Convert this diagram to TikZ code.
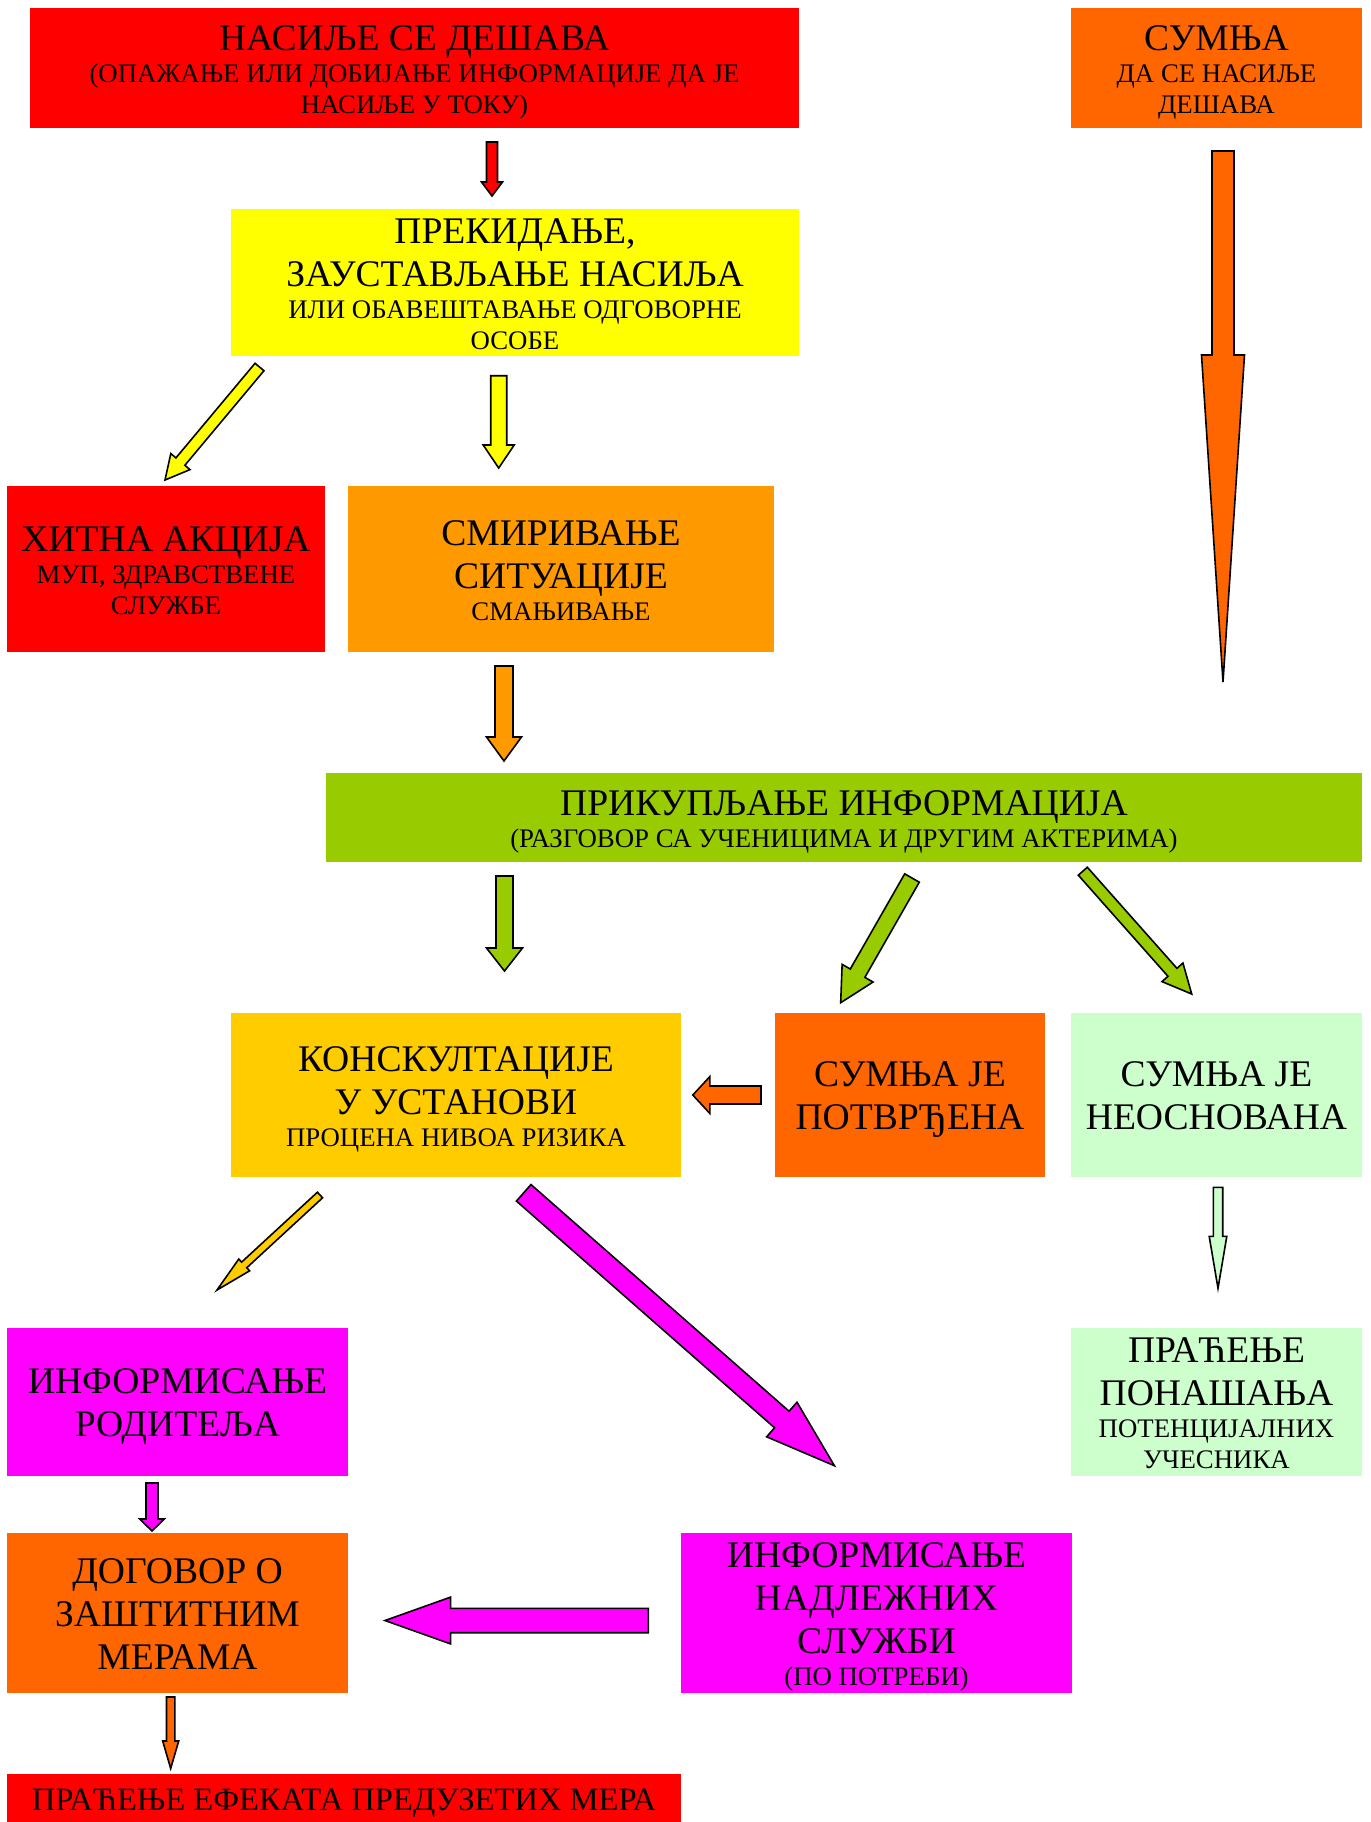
\documentclass[tikz,border=0pt]{standalone}
\usepackage{fontspec}
\setmainfont{Liberation Serif}
\usetikzlibrary{calc}

\definecolor{redbox}{HTML}{FF0000}
\definecolor{orangebox}{HTML}{FF6600}
\definecolor{yellowbox}{HTML}{FFFF00}
\definecolor{amberbox}{HTML}{FF9900}
\definecolor{greenbox}{HTML}{99CC00}
\definecolor{goldbox}{HTML}{FFCC00}
\definecolor{mintbox}{HTML}{CCFFCC}
\definecolor{pinkbox}{HTML}{FF00FF}

\newcommand{\bigline}[1]{{\fontsize{18.8pt}{21.5pt}\selectfont\rule[-6pt]{0pt}{21.5pt}#1}}
\newcommand{\smallline}[1]{{\fontsize{13.4pt}{15.5pt}\selectfont\rule[-5.5pt]{0pt}{15.5pt}#1}}
\newcommand{\linestack}[1]{%
  \setbox0\vbox{\baselineskip=0pt\lineskip=0pt\lineskiplimit=0pt
    \kern3.5pt\let\\\cr\halign{\hfil##\hfil\cr#1\crcr}}%
  \setbox2\hbox{\lower\dimexpr(\ht0-\dp0)/2\relax\box0}%
  \ht2=0pt \dp2=0pt \box2}

\begin{document}
\begin{tikzpicture}[x=0.5pt, y=-0.5pt,
    box/.style={inner sep=0pt},
    dims/.style 2 args={minimum width=#1, minimum height=#2},
    blk/.style n args={3}{draw=black, line width=0.8pt, line join=miter,
      to path={($(\tikztostart)!#1!90:(\tikztotarget)$)
        -- ($(\tikztotarget)!#3!(\tikztostart)!#1!-90:(\tikztostart)$)
        -- ($(\tikztotarget)!#3!(\tikztostart)!#2!-90:(\tikztostart)$)
        -- (\tikztotarget)
        -- ($(\tikztotarget)!#3!(\tikztostart)!#2!90:(\tikztostart)$)
        -- ($(\tikztotarget)!#3!(\tikztostart)!#1!90:(\tikztostart)$)
        -- ($(\tikztostart)!#1!-90:(\tikztotarget)$) -- cycle}}]
  \useasboundingbox (0,0) rectangle (1371,1822);

  \node[box, dims={384.5pt}{60pt}, fill=redbox] (nasilje) at (414.5,68)
    {\linestack{\bigline{НАСИЉЕ СЕ ДЕШАВА}\\\smallline{(ОПАЖАЊЕ ИЛИ ДОБИЈАЊЕ ИНФОРМАЦИЈЕ ДА ЈЕ}\\\smallline{НАСИЉЕ У ТОКУ)}}};
  \node[box, dims={145.5pt}{60pt}, fill=orangebox] (sumnja) at (1216.5,68)
    {\linestack{\bigline{СУМЊА}\\\smallline{ДА СЕ НАСИЉЕ}\\\smallline{ДЕШАВА}}};
  \node[box, dims={284pt}{73.5pt}, fill=yellowbox] (prekid) at (515,282.5)
    {\linestack{\bigline{ПРЕКИДАЊЕ,}\\\bigline{ЗАУСТАВЉАЊЕ НАСИЉА}\\\smallline{ИЛИ ОБАВЕШТАВАЊЕ ОДГОВОРНЕ}\\\smallline{ОСОБЕ}}};
  \node[box, dims={159pt}{83pt}, fill=redbox] (hitna) at (166,569)
    {\linestack{\bigline{ХИТНА АКЦИЈА}\\\smallline{МУП, ЗДРАВСТВЕНЕ}\\\smallline{СЛУЖБЕ}}};
  \node[box, dims={213pt}{83pt}, fill=amberbox] (smiriv) at (561,569)
    {\linestack{\bigline{СМИРИВАЊЕ}\\\bigline{СИТУАЦИЈЕ}\\\smallline{СМАЊИВАЊЕ}}};
  \node[box, dims={518pt}{44.5pt}, fill=greenbox] (prikup) at (844,817.5)
    {\linestack{\bigline{ПРИКУПЉАЊЕ ИНФОРМАЦИЈА}\\\smallline{(РАЗГОВОР СА УЧЕНИЦИМА И ДРУГИМ АКТЕРИМА)}}};
  \node[box, dims={225pt}{82pt}, fill=goldbox] (konsult) at (456,1095)
    {\linestack{\bigline{КОНСКУЛТАЦИЈЕ}\\\bigline{У УСТАНОВИ}\\\smallline{ПРОЦЕНА НИВОА РИЗИКА}}};
  \node[box, dims={135pt}{82pt}, fill=orangebox] (potvrd) at (910,1095)
    {\linestack{\bigline{СУМЊА ЈЕ}\\\bigline{ПОТВРЂЕНА}}};
  \node[box, dims={145.5pt}{82pt}, fill=mintbox] (neosn) at (1216.5,1095)
    {\linestack{\bigline{СУМЊА ЈЕ}\\\bigline{НЕОСНОВАНА}}};
  \node[box, dims={145.5pt}{74pt}, fill=mintbox] (ponasanje) at (1216.5,1402)
    {\linestack{\bigline{ПРАЋЕЊЕ}\\\bigline{ПОНАШАЊА}\\\smallline{ПОТЕНЦИЈАЛНИХ}\\\smallline{УЧЕСНИКА}}};
  \node[box, dims={170.5pt}{74pt}, fill=pinkbox] (roditelji) at (177.5,1402)
    {\linestack{\bigline{ИНФОРМИСАЊЕ}\\\bigline{РОДИТЕЉА}}};
  \node[box, dims={170.5pt}{80pt}, fill=orangebox] (dogovor) at (177.5,1613)
    {\linestack{\bigline{ДОГОВОР О}\\\bigline{ЗАШТИТНИМ}\\\bigline{МЕРАМА}}};
  \node[box, dims={195.5pt}{80pt}, fill=pinkbox] (sluzbe) at (876.5,1613)
    {\linestack{\bigline{ИНФОРМИСАЊЕ}\\\bigline{НАДЛЕЖНИХ}\\\bigline{СЛУЖБИ}\\\smallline{(ПО ПОТРЕБИ)}}};
  \node[box, dims={337pt}{24pt}, fill=redbox, font=\fontsize{16.3pt}{18pt}\selectfont] (efekti) at (344,1798)
    {\raisebox{-2.5pt}[\height][\depth]{ПРАЋЕЊЕ ЕФЕКАТА ПРЕДУЗЕТИХ МЕРА}};

  \coordinate (r1) at (492,142);     \coordinate (r2) at (492,196);
  \coordinate (y1) at (259.5,367);   \coordinate (y2) at (165,480);
  \coordinate (y3) at (498.7,375.7); \coordinate (y4) at (498.7,468);
  \coordinate (o1) at (504,666);     \coordinate (o2) at (504,761);
  \coordinate (g1) at (504.5,876);   \coordinate (g2) at (504.5,971);
  \coordinate (g3) at (912,878);     \coordinate (g4) at (840.7,1002.7);
  \coordinate (g5) at (1082.8,871.2);\coordinate (g6) at (1191.7,994);
  \coordinate (p1) at (761,1095);    \coordinate (p2) at (692.8,1095);
  \coordinate (m1) at (1218,1187.3); \coordinate (m2) at (1218,1288.3);
  \coordinate (k1) at (320,1195);    \coordinate (k2) at (217,1290);
  \coordinate (s1) at (523.7,1192.8);\coordinate (s2) at (834.4,1465.7);
  \coordinate (s3) at (152,1483);    \coordinate (s4) at (152,1531);
  \coordinate (s5) at (648.3,1620.5);\coordinate (s6) at (385,1620.5);
  \coordinate (d1) at (170.7,1697);  \coordinate (d2) at (170.7,1768.5);
  \coordinate (u1) at (1223,151);    \coordinate (u2) at (1223,682);

  \draw[blk={2.75pt}{5.25pt}{7pt}, fill=redbox] (r1) to (r2);
  \draw[blk={2.9pt}{6.25pt}{12pt}, fill=yellowbox] (y1) to (y2);
  \draw[blk={4pt}{7.75pt}{11.5pt}, fill=yellowbox] (y3) to (y4);
  \draw[blk={4.5pt}{8.75pt}{12pt}, fill=amberbox] (o1) to (o2);
  \draw[blk={4.25pt}{9pt}{11.5pt}, fill=greenbox] (g1) to (g2);
  \draw[blk={4.2pt}{8.9pt}{17pt}, fill=greenbox] (g3) to (g4);
  \draw[blk={3pt}{7pt}{14.5pt}, fill=greenbox] (g5) to (g6);
  \draw[blk={4.5pt}{9.2pt}{8.5pt}, fill=orangebox] (p1) to (p2);
  \draw[blk={2.35pt}{4.4pt}{26pt}, fill=mintbox] (m1) to (m2);
  \draw[blk={1.9pt}{4pt}{18.5pt}, fill=goldbox] (k1) to (k2);
  \draw[blk={5.5pt}{11.5pt}{35pt}, fill=pinkbox] (s1) to (s2);
  \draw[blk={3pt}{6.15pt}{6pt}, fill=pinkbox] (s3) to (s4);
  \draw[blk={6.1pt}{11.7pt}{32.8pt}, fill=pinkbox] (s5) to (s6);
  \draw[blk={2.1pt}{4pt}{13.75pt}, fill=orangebox] (d1) to (d2);
  \draw[blk={5.5pt}{10.75pt}{163.5pt}, fill=orangebox] (u1) to (u2);
\end{tikzpicture}
\end{document}
